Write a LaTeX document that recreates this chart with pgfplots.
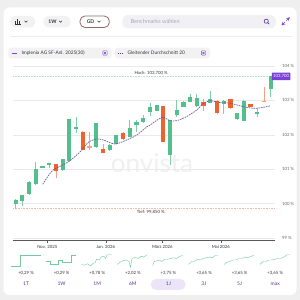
\documentclass[border=0pt]{standalone}
\usepackage{pgfplots}
\usepackage{pgfplotstable}
\pgfplotsset{compat=1.18}
\usepackage{fontspec}
\setmainfont{Lato}
\definecolor{bgc}{HTML}{EFEFEF}
\definecolor{pill}{HTML}{F2F2F2}
\definecolor{srch}{HTML}{F1F0F5}
\definecolor{srchtxt}{HTML}{A9A5BA}
\definecolor{purp}{HTML}{7B3FD8}
\definecolor{purpdark}{HTML}{5A3596}
\definecolor{mac}{HTML}{6A5AA0}
\definecolor{cgreen}{HTML}{52BF8C}
\definecolor{cgreenw}{HTML}{7FD0AA}
\definecolor{corange}{HTML}{EE6230}
\definecolor{corangel}{HTML}{F4A283}
\definecolor{gridc}{HTML}{EAEAEA}
\definecolor{txt}{HTML}{33333F}
\definecolor{tickc}{HTML}{666666}
\definecolor{sfill}{HTML}{D9F0E5}
\definecolor{sline}{HTML}{72CBA0}
\definecolor{jpill}{HTML}{ECE5F8}
\newcommand\fs[1]{\fontsize{#1}{#1}\selectfont}
\pgfplotstableread{
i o h l c
0 99.99 100.12 99.85 100.11
1 100.08 100.25 99.93 100.24
2 100.28 100.66 100.26 100.64
3 100.56 101.22 100.54 101.00
4 101.03 101.10 101.03 101.09
5 101.13 101.19 101.03 101.19
7 100.97 101.30 100.96 101.29
8 101.25 102.46 101.24 102.45
9 102.18 102.53 102.04 102.24
12 101.64 102.33 101.63 102.33
14 101.56 101.72 101.54 101.70
15 101.73 102.00 101.72 101.99
17 101.94 102.42 101.93 102.19
18 102.29 102.43 102.09 102.38
19 102.36 102.58 102.35 102.50
20 102.66 102.92 102.55 102.82
21 102.69 102.88 102.68 102.87
23 101.41 102.44 101.12 102.43
24 102.58 103.01 102.53 102.72
25 102.82 102.97 102.81 102.96
26 102.96 103.20 102.95 103.09
27 102.84 103.20 102.82 103.06
29 102.93 103.28 102.92 103.03
31 102.90 103.02 102.61 102.99
33 102.45 102.63 102.44 102.62
34 102.41 103.00 102.40 102.99
36 102.60 102.77 102.53 102.67
38 103.32 103.70 103.09 103.70
}\up
\pgfplotstableread{
i o h l c
6 101.15 101.15 100.74 100.95
10 102.09 102.10 101.55 101.56
13 101.59 101.73 101.47 101.48
16 102.06 102.07 101.86 101.87
22 102.84 102.85 101.79 101.80
28 102.96 103.05 102.70 102.84
30 102.99 103.00 102.61 102.62
32 103.03 103.04 102.76 102.77
35 102.90 102.91 102.81 102.82
}\down
\pgfplotstableread{
i o h l c
11 101.67 102.09 101.56 101.61
37 102.98 103.38 102.94 102.95
}\downl
\pgfplotsset{spark/.style={scale only axis, width=30pt, height=15pt, hide axis,
  xmin=0, xmax=10, ymin=0, ymax=10, anchor=south west}}
\begin{document}
\begin{tikzpicture}[x=1pt,y=1pt]
% background and card
\fill[bgc] (0,0) rectangle (300,300);
\fill[white, rounded corners=6pt] (3.5,5) rectangle (296.5,292.5);
% toolbar
\fill[pill, rounded corners=5pt] (10,272.5) rectangle (35,284);
\draw[txt, line width=0.7pt] (15.5,276) -- (15.5,279) (17.5,276) -- (17.5,281) (19.5,276) -- (19.5,278.5);
\draw[txt, line width=0.5pt] (14.5,276) -- (21,276);
\draw[txt, line width=0.5pt] (24.5,279.2) -- (26,277.7) -- (27.5,279.2);
\fill[pill, rounded corners=5pt] (43.3,272.5) rectangle (70.7,284);
\node[txt, font=\fs{5}\bfseries, anchor=center] at (52.5,278.2) {1W};
\draw[txt, line width=0.5pt] (59,279.2) -- (60.5,277.7) -- (62,279.2);
\draw[fill=white, draw=black!70!red!60, line width=0.8pt, rounded corners=5pt] (80,272.5) rectangle (109.3,284);
\node[txt, font=\fs{5}\bfseries, anchor=center] at (90.5,278.2) {GD};
\draw[txt, line width=0.5pt] (97.5,279.2) -- (99,277.7) -- (100.5,279.2);
\fill[srch, rounded corners=6pt] (122.3,271.5) rectangle (276,285);
\node[srchtxt, font=\fs{5.6}, anchor=west] at (127,278.2) {Benchmarks wählen};
\draw[purpdark, line width=0.6pt] (266.2,278.8) circle (2.1);
\draw[purpdark, line width=0.7pt] (267.7,277.3) -- (269.2,275.8);
\draw[purp, line width=0.6pt, -stealth] (286.3,279.3) -- (289.8,282.8);
\draw[purp, line width=0.6pt, -stealth] (285,278) -- (281.6,274.6);
\draw[gray!15, line width=0.5pt] (10,264) -- (292,264);
% legend chips
\fill[pill, rounded corners=3pt] (8.3,241.7) rectangle (111.7,252.3);
\draw[purp, line width=0.8pt] (11.5,247) -- (17,247);
\node[txt, font=\fs{4.8}, anchor=west] at (18,247) {Implenia AG SF-Anl. 2025(30)};
\draw[purp, line width=0.4pt, rounded corners=0.8pt] (102.8,244.8) rectangle (107.2,249.2);
\draw[purp, line width=0.4pt] (103.9,245.9) -- (106.1,248.1) (103.9,248.1) -- (106.1,245.9);
\fill[pill, rounded corners=3pt] (115,241.7) rectangle (210,252.3);
\draw[purpdark, line width=0.8pt, dash pattern=on 1.5pt off 0.8pt] (117.5,247) -- (123,247);
\node[txt, font=\fs{4.8}, anchor=west] at (124,247) {Gleitender Durchschnitt 20};
\draw[purp, line width=0.4pt, rounded corners=0.8pt] (201.3,244.8) rectangle (205.7,249.2);
\draw[purp, line width=0.4pt] (202.4,245.9) -- (204.6,248.1) (202.4,248.1) -- (204.6,245.9);
% watermark
\node[black!6, font=\fs{26}, anchor=center] at (152,137) {onvista};
% main chart
\begin{axis}[at={(13pt,60pt)}, anchor=south west, scale only axis,
  width=262pt, height=177.4pt,
  xmin=-0.4, xmax=38.64, ymin=98.94, ymax=104.1,
  clip=false,
  axis x line*=bottom, axis y line*=right,
  x axis line style={-, draw=black!65, line width=0.6pt},
  y axis line style={draw=none},
  ytick={99,100,101,102,103,104},
  yticklabels={99 \%,100 \%,101 \%,102 \%,103 \%,104 \%},
  ytick style={draw=none},
  yticklabel style={font=\fs{4.3}, text=tickc, anchor=west, xshift=1pt},
  ymajorgrids, grid style={gridc, line width=0.5pt},
  xtick={4.714,13.43,21.86,30.57},
  xticklabels={Nov. 2025,Jan. 2026,März 2026,Mai 2026},
  xtick style={draw=black!65, line width=0.5pt},
  tick align=outside, major tick length=2.5pt,
  xticklabel style={font=\fs{4.3}, text=txt, yshift=1pt},
]
\addplot[cgreen!45!white, line width=0.6pt, dash pattern=on 0.8pt off 0.8pt, mark=none] coordinates {(-0.4,103.7) (38.0,103.7)};
\addplot[corange!45!white, line width=0.6pt, dash pattern=on 0.8pt off 0.8pt, mark=none] coordinates {(-0.4,99.85) (38.64,99.85)};
\node[txt, font=\fs{4.3}, anchor=south east, inner sep=0.5pt] at (axis cs:22.75,103.73) {Hoch: 103,700 \%};
\node[txt, font=\fs{4.3}, anchor=north east, inner sep=0.5pt] at (axis cs:22.3,99.81) {Tief: 99,850 \%};
% wicks
\addplot[cgreenw, line width=0.8pt, mark=none, -, quiver={u=0, v=\thisrow{h}-\thisrow{l}}] table[x=i, y=l] {\up};
\addplot[corangel, line width=0.8pt, mark=none, -, quiver={u=0, v=\thisrow{h}-\thisrow{l}}] table[x=i, y=l] {\down};
\addplot[corangel, line width=0.8pt, mark=none, -, quiver={u=0, v=\thisrow{h}-\thisrow{l}}] table[x=i, y=l] {\downl};
% bodies
\addplot[cgreen, line width=4.2pt, mark=none, -, quiver={u=0, v=\thisrow{c}-\thisrow{o}}] table[x=i, y=o] {\up};
\addplot[corange, line width=4.2pt, mark=none, -, quiver={u=0, v=\thisrow{c}-\thisrow{o}}] table[x=i, y=o] {\down};
\addplot[corangel, line width=4.2pt, mark=none, -, quiver={u=0, v=\thisrow{c}-\thisrow{o}}] table[x=i, y=o] {\downl};
% moving average
\addplot[mac, line width=0.7pt, dash pattern=on 1.6pt off 0.9pt, mark=none, smooth, tension=0.4] coordinates {
(4.02,100.56) (4.62,100.74) (5.6,100.98) (7.84,101.21) (9.58,101.5) (10.82,101.78)
(12.07,101.88) (13.05,101.85) (14.8,101.73) (16.54,101.85) (18.03,101.99) (19.52,102.23)
(20.0,102.28) (21.25,102.45) (22.0,102.51) (23.0,102.41) (24.0,102.41) (25.48,102.53)
(26.97,102.72) (27.96,102.91) (28.96,102.99) (30.44,102.94) (31.93,102.92) (33.91,102.82)
(35.41,102.77) (36.66,102.79) (37.9,102.84)};
\node[fill=purp, text=white, font=\fs{4.3}, anchor=west, inner sep=1.2pt, minimum height=7.3pt, rounded corners=0.5pt] at (axis cs:38.15,103.7) {103,700};
\end{axis}
% sparklines
\begin{axis}[spark, at={(11pt,31pt)}]
\addplot[sfill, draw=none] coordinates {(0,2)(3,2)(3,9.5)(10,9.5)} \closedcycle;
\addplot[sline, line width=0.4pt] coordinates {(0,2)(3,2)(3,9.5)(10,9.5)};
\end{axis}
\begin{axis}[spark, at={(46pt,31pt)}]
\addplot[sfill, draw=none] coordinates {(0,5.5)(1.5,5.5)(1.5,3)(4,3)(4,6)(5.5,6)(5.5,4.5)(8.5,4.5)(8.5,9)(10,9)} \closedcycle;
\addplot[sline, line width=0.4pt] coordinates {(0,5.5)(1.5,5.5)(1.5,3)(4,3)(4,6)(5.5,6)(5.5,4.5)(8.5,4.5)(8.5,9)(10,9)};
\end{axis}
\begin{axis}[spark, at={(81.5pt,31pt)}]
\addplot[sfill, draw=none] coordinates {(0,3)(1,2.5)(2,3.5)(3,2)(4,4)(4.5,4)(5,6.5)(6,6)(6.5,8)(7.5,8.5)(8,7)(8.5,9.5)(10,9.5)} \closedcycle;
\addplot[sline, line width=0.4pt] coordinates {(0,3)(1,2.5)(2,3.5)(3,2)(4,4)(4.5,4)(5,6.5)(6,6)(6.5,8)(7.5,8.5)(8,7)(8.5,9.5)(10,9.5)};
\end{axis}
\begin{axis}[spark, at={(117pt,31pt)}]
\addplot[sfill, draw=none] coordinates {(0,3)(1,4.5)(2,5.5)(3,6)(4,5)(4.5,1)(5,7)(6,8)(7,7)(8,8.5)(9,8)(10,9.5)} \closedcycle;
\addplot[sline, line width=0.4pt] coordinates {(0,3)(1,4.5)(2,5.5)(3,6)(4,5)(4.5,1)(5,7)(6,8)(7,7)(8,8.5)(9,8)(10,9.5)};
\end{axis}
\begin{axis}[spark, at={(152.7pt,31pt)}]
\addplot[sfill, draw=none] coordinates {(0,2)(0.5,5)(1.5,5.5)(2.5,6)(3,5)(4,6.5)(5,6.5)(6,7)(7,7.5)(8,7)(9,8.5)(10,9)} \closedcycle;
\addplot[sline, line width=0.4pt] coordinates {(0,2)(0.5,5)(1.5,5.5)(2.5,6)(3,5)(4,6.5)(5,6.5)(6,7)(7,7.5)(8,7)(9,8.5)(10,9)};
\end{axis}
\begin{axis}[spark, at={(188.3pt,31pt)}]
\addplot[sfill, draw=none] coordinates {(0,3)(1,5)(2,5)(3,6.5)(4,6)(5,7)(6,7.5)(7,8)(8,7.5)(9,9)(10,9)} \closedcycle;
\addplot[sline, line width=0.4pt] coordinates {(0,3)(1,5)(2,5)(3,6.5)(4,6)(5,7)(6,7.5)(7,8)(8,7.5)(9,9)(10,9)};
\end{axis}
\begin{axis}[spark, at={(224pt,31pt)}]
\addplot[sfill, draw=none] coordinates {(0,3)(1,4.5)(2,5)(3,6)(4,6)(5,7)(6,7)(7,8)(8,7.5)(9,8.5)(10,9)} \closedcycle;
\addplot[sline, line width=0.4pt] coordinates {(0,3)(1,4.5)(2,5)(3,6)(4,6)(5,7)(6,7)(7,8)(8,7.5)(9,8.5)(10,9)};
\end{axis}
\begin{axis}[spark, at={(260pt,31pt)}]
\addplot[sfill, draw=none] coordinates {(0,3)(1,5)(2,5)(3,6)(4,6)(5,6.5)(6,7)(7,7)(8,8)(9,9.5)(10,9.5)} \closedcycle;
\addplot[sline, line width=0.4pt] coordinates {(0,3)(1,5)(2,5)(3,6)(4,6)(5,6.5)(6,7)(7,7)(8,8)(9,9.5)(10,9.5)};
\end{axis}
% sparkline labels and buttons
\fill[jpill, rounded corners=5.5pt] (150.7,10) rectangle (185.7,21);
\foreach \cx/\lab/\btn in {26/+0{,}29 \%/1T, 61.6/+0{,}29 \%/1W, 97.2/+0{,}78 \%/1M, 132.8/+2{,}02 \%/6M, 168.4/+3{,}75 \%/1J, 204/+3{,}65 \%/3J, 239.6/+3{,}65 \%/5J, 275.2/+3{,}65 \%/max}{
  \node[txt, font=\fs{4.3}, anchor=center] at (\cx,26.7) {\lab};
  \node[purpdark, font=\fs{5}, anchor=center] at (\cx,15.8) {\btn};
}
\end{tikzpicture}
\end{document}
